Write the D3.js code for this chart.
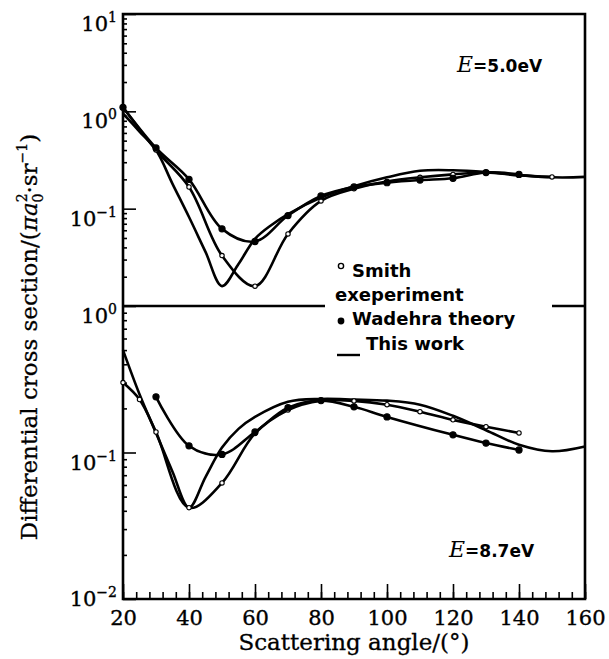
<!DOCTYPE html>
<html>
<head>
<meta charset="utf-8">
<script src="https://cdn.jsdelivr.net/npm/d3@7"></script>
<style>
  html, body { margin: 0; padding: 0; background: #fff; }
  svg { display: block; }
</style>
</head>
<body>
<div id="chart"></div>
<script>
// E = 5.0 eV (upper panel)
const workAngles5 = [20, 25, 30, 35, 40, 45, 50, 55, 60, 65, 70, 80, 90, 100, 110, 120, 130, 140, 150, 160];
const workValues5 = [0.95, 0.62, 0.40, 0.18, 0.082, 0.036, 0.016, 0.027, 0.049, 0.068, 0.088, 0.13, 0.17, 0.21, 0.245, 0.248, 0.238, 0.222, 0.21, 0.212];
const smithAngles5 = [20, 30, 40, 50, 60, 70, 80, 90, 100, 110, 120, 130, 140, 150];
const smithValues5 = [1.1, 0.40, 0.167, 0.033, 0.016, 0.055, 0.12, 0.16, 0.19, 0.21, 0.225, 0.235, 0.22, 0.212];
const wadehraAngles5 = [20, 30, 40, 50, 60, 70, 80, 90, 100, 110, 120, 130, 140];
const wadehraValues5 = [1.1, 0.42, 0.20, 0.062, 0.046, 0.085, 0.135, 0.167, 0.185, 0.197, 0.205, 0.235, 0.225];

// E = 8.7 eV (lower panel)
const workAngles87 = [20, 25, 30, 35, 40, 45, 50, 55, 60, 70, 80, 90, 100, 110, 120, 130, 140, 150, 160];
const workValues87 = [0.50, 0.25, 0.136, 0.074, 0.042, 0.068, 0.108, 0.145, 0.175, 0.222, 0.232, 0.23, 0.226, 0.212, 0.178, 0.142, 0.113, 0.102, 0.11];
const smithAngles87 = [20, 25, 30, 40, 50, 60, 70, 80, 90, 100, 110, 120, 130, 140];
const smithValues87 = [0.30, 0.23, 0.138, 0.042, 0.062, 0.135, 0.195, 0.226, 0.225, 0.212, 0.19, 0.167, 0.15, 0.136];
const wadehraAngles87 = [30, 40, 50, 60, 70, 80, 90, 100, 120, 130, 140];
const wadehraValues87 = [0.24, 0.111, 0.097, 0.138, 0.202, 0.226, 0.205, 0.175, 0.132, 0.116, 0.104];

// axis ticks
const xMajorTicks = [20, 40, 60, 80, 100, 120, 140, 160];
const xMinorTicks = d3.range(20, 161, 4);
const topDecades = [1e1, 1e0, 1e-1];
const topExponents = ['1', '0', '\u22121'];
const botDecades = [1e0, 1e-1, 1e-2];
const botExponents = ['0', '\u22121', '\u22122'];

const legendLines = ['Smith', 'exeperiment', 'Wadehra theory', 'This work'];

const W = 609, H = 659;
const X0 = 123, X1 = 585;
const TOP = 14, MID = 306, BOT = 599;
const SERIF = '"DejaVu Serif", serif';
const SANS = '"DejaVu Sans", sans-serif';

const svg = d3.select('#chart').append('svg')
  .attr('width', W).attr('height', H)
  .attr('viewBox', `0 0 ${W} ${H}`);

const x = d3.scaleLinear().domain([20, 160]).range([X0, X1]);
const yTop = d3.scaleLog().domain([1e-2, 1e1]).range([MID, TOP]);
const yBot = d3.scaleLog().domain([1e-2, 1e0]).range([BOT, MID]);

const zip = (a, v) => a.map((d, i) => [d, v[i]]);

// minor log ticks inside a log domain
function minorLog(lo, hi) {
  const out = [];
  for (let p = Math.log10(lo); p < Math.log10(hi); p++) {
    for (let k = 2; k <= 9; k++) out.push(k * Math.pow(10, p));
  }
  return out;
}

// --- y axes (ticks point inward) ---
function yAxis(scale, majors) {
  const g = svg.append('g').attr('transform', `translate(${X0},0)`);
  g.append('g').call(d3.axisLeft(scale).tickValues(majors).tickSize(-13).tickFormat(''));
  g.append('g').call(d3.axisLeft(scale).tickValues(minorLog(scale.domain()[0], scale.domain()[1])).tickSize(-4).tickFormat(''));
  g.selectAll('.domain').remove();
  g.selectAll('line').attr('stroke', '#000').attr('stroke-width', 1.6);
}
yAxis(yTop, topDecades);
yAxis(yBot, botDecades);

function yLabels(scale, values, exps) {
  values.forEach((v, i) => {
    const t = svg.append('text')
      .attr('x', 117)
      .attr('y', Math.min(scale(v) + 17, BOT + 7))
      .attr('text-anchor', 'end')
      .style('font-family', SERIF)
      .style('font-size', '21px')
      .attr('fill', '#000')
      .attr('stroke', '#000')
      .attr('stroke-width', 0.35);
    t.append('tspan').text('10');
    t.append('tspan').attr('dy', -9).style('font-size', '14px').text(exps[i]);
  });
}
yLabels(yTop, topDecades, topExponents);
yLabels(yBot, botDecades, botExponents);

// --- x axis ---
const xg = svg.append('g').attr('transform', `translate(0,${BOT})`);
xg.append('g').call(d3.axisBottom(x).tickValues(xMinorTicks).tickSize(-7).tickFormat(''));
const xMaj = xg.append('g').call(d3.axisBottom(x).tickValues(xMajorTicks).tickSize(-15).tickPadding(11).tickFormat(d3.format('d')));
xg.selectAll('.domain').remove();
xg.selectAll('line').attr('stroke', '#000').attr('stroke-width', 1.6);
xMaj.selectAll('text')
  .attr('fill', '#000')
  .attr('stroke', '#000')
  .attr('stroke-width', 0.35)
  .style('font-family', SERIF)
  .style('font-size', '21px');

// --- frame ---
const frame = svg.append('g').attr('stroke', '#000').attr('stroke-width', 2.6).attr('fill', 'none');
frame.append('path').attr('d', `M${X0},${TOP}H${X1}V${BOT}H${X0}Z`);
frame.append('line').attr('x1', X0).attr('x2', 325).attr('y1', MID).attr('y2', MID);
frame.append('line').attr('x1', 552).attr('x2', X1).attr('y1', MID).attr('y2', MID);

// --- curves ---
function panel(scale, series) {
  const line = d3.line()
    .x(d => x(d[0]))
    .y(d => scale(d[1]))
    .curve(d3.curveCatmullRom.alpha(0.5));
  const g = svg.append('g');
  series.forEach(s => {
    g.append('path')
      .datum(s.points)
      .attr('d', line)
      .attr('fill', 'none')
      .attr('stroke', '#000')
      .attr('stroke-width', 2.6)
      .attr('stroke-linejoin', 'round');
  });
  series.filter(s => s.marker).forEach(s => {
    g.selectAll(null)
      .data(s.points)
      .join('circle')
      .attr('cx', d => x(d[0]))
      .attr('cy', d => scale(d[1]))
      .attr('r', s.marker === 'dot' ? 3.1 : 2.2)
      .attr('fill', s.marker === 'dot' ? '#000' : '#fff')
      .attr('stroke', '#000')
      .attr('stroke-width', 1.1);
  });
}

panel(yTop, [
  { points: zip(workAngles5, workValues5) },
  { points: zip(smithAngles5, smithValues5), marker: 'open' },
  { points: zip(wadehraAngles5, wadehraValues5), marker: 'dot' }
]);
panel(yBot, [
  { points: zip(workAngles87, workValues87) },
  { points: zip(smithAngles87, smithValues87), marker: 'open' },
  { points: zip(wadehraAngles87, wadehraValues87), marker: 'dot' }
]);

// --- energy labels ---
function energy(xp, yp, txt) {
  const t = svg.append('text').attr('x', xp).attr('y', yp).attr('fill', '#000');
  t.append('tspan').style('font-family', SERIF).style('font-style', 'italic').style('font-size', '22px').text('E');
  t.append('tspan').style('font-family', SANS).style('font-weight', 'bold').style('font-size', '17px').text(txt);
}
energy(457, 72, '=5.0eV');
energy(449, 557, '=8.7eV');

// --- legend ---
const leg = svg.append('g')
  .style('font-family', SANS)
  .style('font-weight', 'bold')
  .style('font-size', '18px')
  .attr('fill', '#000');
leg.append('circle').attr('cx', 341).attr('cy', 266).attr('r', 2.6).attr('fill', '#fff').attr('stroke', '#000').attr('stroke-width', 1.4);
leg.append('text').attr('x', 352).attr('y', 277).text(legendLines[0]);
leg.append('text').attr('x', 335).attr('y', 301).text(legendLines[1]);
leg.append('circle').attr('cx', 341).attr('cy', 321).attr('r', 3.4);
leg.append('text').attr('x', 352).attr('y', 325).text(legendLines[2]);
leg.append('line').attr('x1', 337).attr('x2', 360).attr('y1', 355).attr('y2', 355).attr('stroke', '#000').attr('stroke-width', 2.4);
leg.append('text').attr('x', 366).attr('y', 350).text(legendLines[3]);

// --- axis titles ---
const yt = svg.append('text')
  .attr('transform', `translate(37,337) rotate(-90)`)
  .attr('text-anchor', 'middle')
  .style('font-family', SERIF)
  .style('font-size', '23px')
  .attr('fill', '#000')
  .attr('stroke', '#000')
  .attr('stroke-width', 0.3);
yt.append('tspan').text('Differential cross section/(');
yt.append('tspan').style('font-style', 'italic').text('\u03C0a');
yt.append('tspan').attr('dy', -10).style('font-size', '14px').text('2');
yt.append('tspan').attr('dx', -9).attr('dy', 16).style('font-size', '14px').text('0');
yt.append('tspan').attr('dy', -6).text('\u00B7sr');
yt.append('tspan').attr('dy', -10).style('font-size', '14px').text('\u22121');
yt.append('tspan').attr('dy', 10).text(')');

svg.append('text')
  .attr('x', 354).attr('y', 650)
  .attr('text-anchor', 'middle')
  .style('font-family', SERIF)
  .style('font-size', '23px')
  .attr('fill', '#000')
  .attr('stroke', '#000')
  .attr('stroke-width', 0.3)
  .text('Scattering angle/(\u00B0)');
</script>
</body>
</html>
